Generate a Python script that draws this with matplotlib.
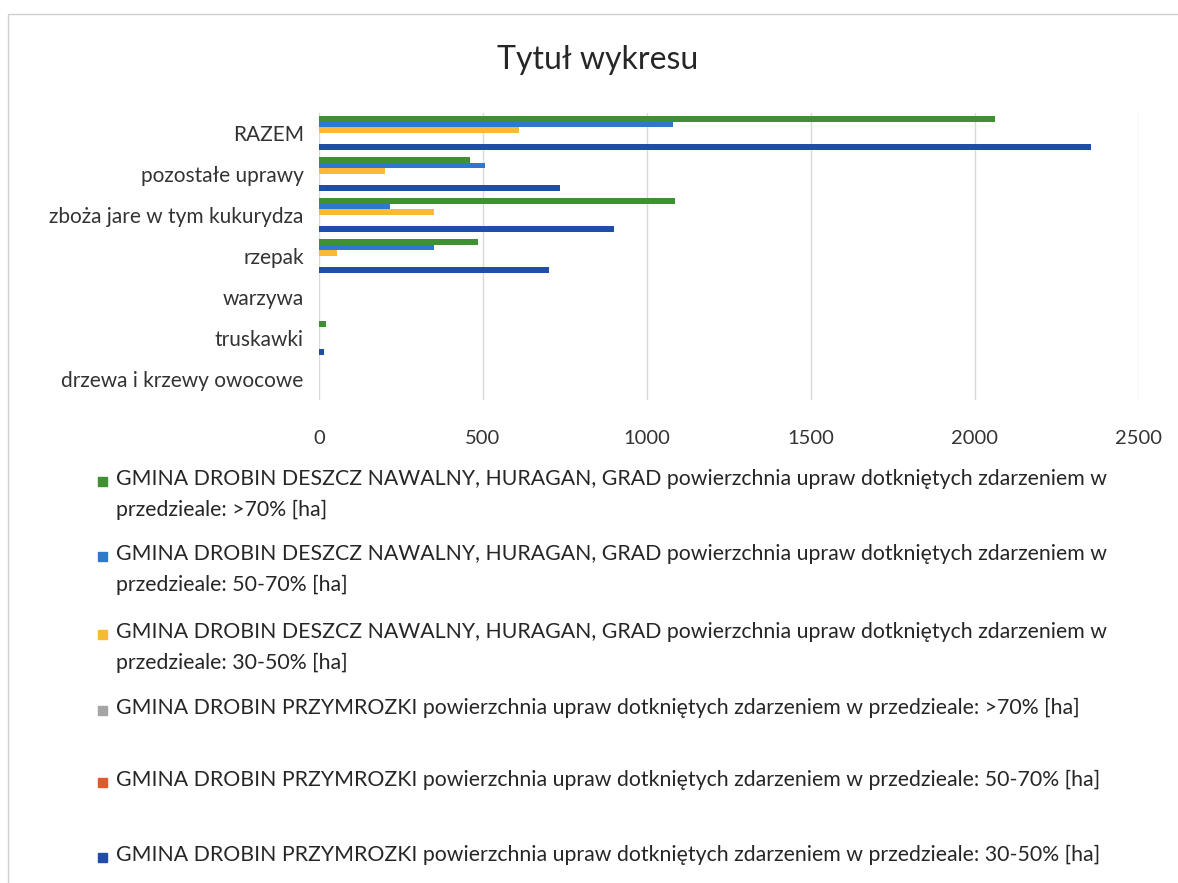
import matplotlib
matplotlib.use('Agg')
import matplotlib.pyplot as plt
import numpy as np
from matplotlib.patches import Rectangle

plt.rcParams['font.family'] = ['Lato', 'DejaVu Sans']

# categories from top to bottom
categories = ['RAZEM', 'pozostałe uprawy', 'zboża jare w tym kukurydza', 'rzepak',
              'warzywa', 'truskawki', 'drzewa i krzewy owocowe']

# values per series, same order as categories [ha]
deszcz_ponad70 = [2060, 460, 1085, 485, 0, 20, 0]
deszcz_50_70 = [1080, 505, 215, 350, 0, 0, 0]
deszcz_30_50 = [610, 200, 350, 55, 0, 0, 0]
przymrozki_ponad70 = [0, 0, 0, 0, 0, 0, 0]
przymrozki_50_70 = [0, 0, 0, 0, 0, 0, 0]
przymrozki_30_50 = [2355, 735, 900, 700, 0, 15, 0]

series = [deszcz_ponad70, deszcz_50_70, deszcz_30_50,
          przymrozki_ponad70, przymrozki_50_70, przymrozki_30_50]
colors = ['#3f8f33', '#2f78d0', '#f7bb33', '#a5a5a5', '#e05a2b', '#1f4ea8']

labels = [
    'GMINA DROBIN DESZCZ NAWALNY, HURAGAN, GRAD powierzchnia upraw dotkniętych zdarzeniem w\nprzedzieale: >70% [ha]',
    'GMINA DROBIN DESZCZ NAWALNY, HURAGAN, GRAD powierzchnia upraw dotkniętych zdarzeniem w\nprzedzieale: 50-70% [ha]',
    'GMINA DROBIN DESZCZ NAWALNY, HURAGAN, GRAD powierzchnia upraw dotkniętych zdarzeniem w\nprzedzieale: 30-50% [ha]',
    'GMINA DROBIN PRZYMROZKI powierzchnia upraw dotkniętych zdarzeniem w przedzieale: >70% [ha]',
    'GMINA DROBIN PRZYMROZKI powierzchnia upraw dotkniętych zdarzeniem w przedzieale: 50-70% [ha]',
    'GMINA DROBIN PRZYMROZKI powierzchnia upraw dotkniętych zdarzeniem w przedzieale: 30-50% [ha]',
]

W, H = 1178, 883
fig = plt.figure(figsize=(W/100, H/100), dpi=100)

def px(x, y):
    return x / W, 1 - y / H

# frame of the chart area (scan)
fig.patches.append(Rectangle(px(8, 890), 1.0, 876/H, transform=fig.transFigure,
                             fill=False, edgecolor='#d0d0d0', linewidth=1))

ax = fig.add_axes([319/W, 1 - 399.5/H, (1139-319)/W, 287/H])

n = len(categories)
ypos = np.arange(n)[::-1]  # RAZEM at the top
h = 0.138
for i, (vals, c) in enumerate(zip(series, colors)):
    ax.barh(ypos + (2.5 - i) * h, vals, height=h, color=c, zorder=3)

ax.set_xlim(0, 2500)
ax.set_ylim(-0.5, n - 0.5)
ax.set_xticks(np.arange(0, 2501, 500))
ax.set_yticks(ypos)
ax.set_yticklabels(categories, fontsize=15)
ax.grid(axis='x', color='#d9d9d9', linewidth=1, zorder=0)
for s in ax.spines.values():
    s.set_visible(False)
ax.tick_params(axis='both', length=0, colors='#333333')
ax.tick_params(axis='x', pad=22, labelsize=14.5)
ax.tick_params(axis='y', pad=11)

fig.text(*px(598, 60), 'Tytuł wykresu', ha='center', va='center',
         fontsize=23, color='#262626')

# legend, drawn by hand to follow the original spacing
leg_y = [481, 556, 634, 710, 782, 857]
for lab, c, y in zip(labels, colors, leg_y):
    fig.patches.append(Rectangle(px(98, y + 5), 9/W, 9/H, transform=fig.transFigure,
                                 color=c))
    fig.text(*px(116, y - 12), lab, ha='left', va='top', fontsize=15.3,
             color='#262626', linespacing=1.7)

fig.savefig('out.png', dpi=100)
